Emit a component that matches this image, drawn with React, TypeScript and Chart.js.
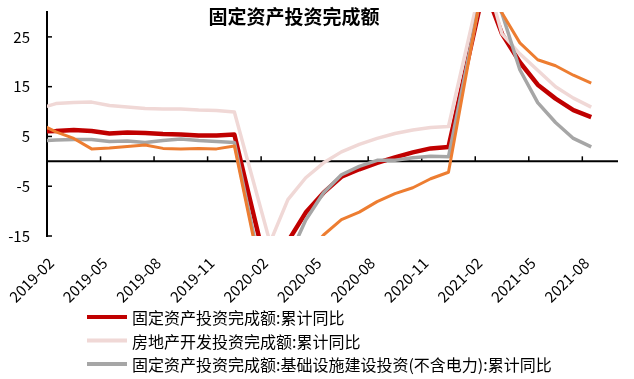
import { useEffect, useRef } from 'react';
import { Chart, registerables } from 'chart.js';

Chart.register(...registerables);

// ---------- data ----------
const TITLE = '固定资产投资完成额';

const months = [
  '2018-12',
  '2019-02', '2019-03', '2019-04', '2019-05', '2019-06', '2019-07', '2019-08', '2019-09', '2019-10', '2019-11', '2019-12',
  '2020-02', '2020-03', '2020-04', '2020-05', '2020-06', '2020-07', '2020-08', '2020-09', '2020-10', '2020-11', '2020-12',
  '2021-02', '2021-03', '2021-04', '2021-05', '2021-06', '2021-07', '2021-08',
];

const faiCum = [
  5.9,
  6.1, 6.3, 6.1, 5.6, 5.8, 5.7, 5.5, 5.4, 5.2, 5.2, 5.4,
  -24.5, -16.1, -10.3, -6.3, -3.1, -1.6, -0.3, 0.8, 1.8, 2.6, 2.9,
  35.0, 25.6, 19.9, 15.4, 12.6, 10.3, 8.9,
];

const realEstateCum = [
  9.5,
  11.6, 11.8, 11.9, 11.2, 10.9, 10.6, 10.5, 10.5, 10.3, 10.2, 9.9,
  -16.3, -7.7, -3.3, -0.3, 1.9, 3.4, 4.6, 5.6, 6.3, 6.8, 7.0,
  38.3, 25.6, 21.6, 18.3, 15.0, 12.7, 10.9,
];

const infraCum = [
  3.8,
  4.3, 4.4, 4.4, 4.0, 4.1, 3.8, 4.2, 4.5, 4.2, 4.0, 3.8,
  -30.3, -19.7, -11.8, -6.3, -2.7, -1.0, 0.2, 0.2, 0.7, 1.0, 0.9,
  36.6, 29.7, 18.4, 11.8, 7.8, 4.6, 2.9,
];

const manufCum = [
  9.5,
  5.9, 4.6, 2.5, 2.7, 3.0, 3.3, 2.6, 2.5, 2.6, 2.5, 3.1,
  -31.5, -25.2, -18.8, -14.8, -11.7, -10.2, -8.1, -6.5, -5.3, -3.5, -2.2,
  37.3, 29.8, 23.8, 20.4, 19.2, 17.3, 15.7,
];

const seriesNames = [
  '固定资产投资完成额:累计同比',
  '房地产开发投资完成额:累计同比',
  '固定资产投资完成额:基础设施建设投资(不含电力):累计同比',
  '制造业投资完成额:累计同比',
];

const xTickLabels = [
  '2019-02', '2019-05', '2019-08', '2019-11', '2020-02', '2020-05',
  '2020-08', '2020-11', '2021-02', '2021-05', '2021-08',
];

const yTicks = [-15, -5, 5, 15, 25];

// ---------- helpers ----------
const FONT = '"Noto Sans CJK SC", "Noto Sans", sans-serif';

// month position on a continuous month axis (tick at the start of a month slot, point at its middle)
const monthPos = (m: string) => {
  const [y, mo] = m.split('-').map(Number);
  return (y - 2019) * 12 + (mo - 2) + 0.5;
};
const tickPos = (label: string) => monthPos(label) - 0.5;

const toPoints = (vals: number[]) => vals.map((v, i) => ({ x: monthPos(months[i]), y: v }));

const styles = [
  { color: '#C00000', width: 4.5, order: 3, legend: true },
  { color: '#F0D8D6', width: 3.5, order: 2, legend: true },
  { color: '#A6A6A6', width: 3.5, order: 1, legend: true },
  { color: '#ED7D31', width: 3, order: 0, legend: false },
];
const seriesValues = [faiCum, realEstateCum, infraCum, manufCum];

// ---------- plugins ----------
const axisDecor = {
  id: 'axisDecor',
  beforeDatasetsDraw(chart: any) {
    const { ctx, chartArea, scales } = chart;
    const x = scales.x;
    const y = scales.y;
    const y0 = y.getPixelForValue(0);
    ctx.save();
    ctx.strokeStyle = '#000';
    ctx.lineWidth = 2;
    ctx.beginPath();
    ctx.moveTo(chartArea.left, y0);
    ctx.lineTo(chartArea.right, y0);
    ctx.stroke();
    ctx.lineWidth = 1.5;
    x.ticks.forEach((t: any, i: number) => {
      if (i === 0) return;
      const px = x.getPixelForValue(t.value);
      ctx.beginPath();
      ctx.moveTo(px, y0);
      ctx.lineTo(px, y0 - 5);
      ctx.stroke();
    });
    y.ticks.forEach((t: any) => {
      const py = y.getPixelForValue(t.value);
      ctx.beginPath();
      ctx.moveTo(chartArea.left, py);
      ctx.lineTo(chartArea.left + 5, py);
      ctx.stroke();
    });
    ctx.restore();
  },
};

const titleDecor = {
  id: 'titleDecor',
  afterDraw(chart: any) {
    const { ctx } = chart;
    ctx.save();
    ctx.font = `bold 19px ${FONT}`;
    ctx.fillStyle = '#000';
    ctx.textAlign = 'center';
    ctx.textBaseline = 'middle';
    ctx.fillText(TITLE, 294, 17);
    ctx.restore();
  },
};

const legendDecor = {
  id: 'legendDecor',
  afterDraw(chart: any) {
    const { ctx } = chart;
    const x0 = 87;
    const y0 = 317;
    const step = 23.5;
    ctx.save();
    ctx.font = `16px ${FONT}`;
    ctx.textBaseline = 'middle';
    ctx.textAlign = 'left';
    let row = 0;
    chart.data.datasets.forEach((ds: any) => {
      if (!ds.inLegend) return;
      const yy = y0 + row * step;
      ctx.strokeStyle = ds.borderColor;
      ctx.lineWidth = 4;
      ctx.beginPath();
      ctx.moveTo(x0, yy);
      ctx.lineTo(x0 + 40, yy);
      ctx.stroke();
      ctx.fillStyle = '#000';
      ctx.fillText(ds.label, x0 + 45, yy + 1);
      row++;
    });
    ctx.restore();
  },
};

export default function App() {
  const ref = useRef<HTMLCanvasElement>(null);

  useEffect(() => {
    if (!ref.current) return;
    const datasets = seriesNames.map((name, i) => ({
      label: name,
      data: toPoints(seriesValues[i]),
      borderColor: styles[i].color,
      backgroundColor: styles[i].color,
      borderWidth: styles[i].width,
      order: styles[i].order,
      inLegend: styles[i].legend,
      pointRadius: 0,
      tension: 0,
      spanGaps: true,
      clip: 0,
      borderJoinStyle: 'round' as const,
    }));

    const chart = new Chart(ref.current, {
      type: 'line',
      data: { datasets: datasets as any },
      options: {
        animation: false,
        responsive: false,
        maintainAspectRatio: false,
        layout: { padding: { top: 12, right: 16, left: 0, bottom: 0 } },
        plugins: {
          legend: { display: false },
          title: { display: false },
          tooltip: { enabled: false },
        },
        scales: {
          x: {
            type: 'linear',
            min: tickPos(xTickLabels[0]),
            max: tickPos(xTickLabels[xTickLabels.length - 1]) + 2,
            grid: { display: false, drawTicks: false },
            border: { display: false },
            afterBuildTicks: (s: any) => {
              s.ticks = xTickLabels.map((l) => ({ value: tickPos(l) }));
            },
            afterFit: (s: any) => {
              s.height = 143;
              s.paddingLeft = 0;
              s.paddingRight = 0;
            },
            ticks: {
              autoSkip: false,
              minRotation: 45,
              maxRotation: 45,
              padding: 18,
              labelOffset: 4,
              color: '#000',
              font: { size: 15, family: FONT },
              callback: (v: any) => {
                const idx = xTickLabels.findIndex((l) => Math.abs(tickPos(l) - Number(v)) < 1e-6);
                return idx >= 0 ? xTickLabels[idx] : '';
              },
            },
          },
          y: {
            type: 'linear',
            min: -15,
            max: 30,
            grid: { display: false, drawTicks: false },
            border: { display: true, color: '#000', width: 2 },
            afterBuildTicks: (s: any) => {
              s.ticks = yTicks.map((v) => ({ value: v }));
            },
            afterFit: (s: any) => {
              s.width = 47;
              s.paddingTop = 0;
              s.paddingBottom = 0;
            },
            ticks: {
              color: '#000',
              padding: 17,
              font: { size: 15, family: FONT },
            },
          },
        },
      },
      plugins: [axisDecor, titleDecor, legendDecor],
    });
    return () => chart.destroy();
  }, []);

  return (
    <div style={{ position: 'absolute', left: 0, top: 0, width: 634, height: 379, background: '#fff' }}>
      <canvas ref={ref} width={634} height={379} style={{ display: 'block', width: 634, height: 379 }} />
    </div>
  );
}
